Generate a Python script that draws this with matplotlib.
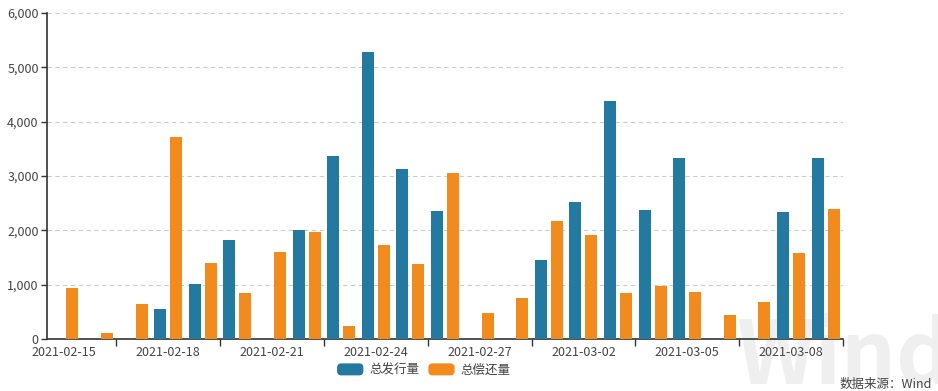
import numpy as np
import matplotlib
matplotlib.use("Agg")
import matplotlib.pyplot as plt
from matplotlib.patches import FancyBboxPatch, Patch
from matplotlib.legend_handler import HandlerPatch

plt.rcParams['font.family'] = ['Noto Sans CJK SC', 'DejaVu Sans']

dates = ['2021-02-15', '2021-02-16', '2021-02-17', '2021-02-18', '2021-02-19', '2021-02-20',
         '2021-02-21', '2021-02-22', '2021-02-23', '2021-02-24', '2021-02-25', '2021-02-26',
         '2021-02-27', '2021-02-28', '2021-03-01', '2021-03-02', '2021-03-03', '2021-03-04',
         '2021-03-05', '2021-03-06', '2021-03-07', '2021-03-08', '2021-03-09']
issue = [0, 0, 0, 552, 1010, 1818, 0, 2007, 3370, 5291, 3136, 2357,
         0, 0, 1449, 2523, 4389, 2370, 3333, 0, 0, 2333, 3328]
repay = [940, 115, 650, 3726, 1405, 853, 1608, 1965, 245, 1737, 1381, 3052,
         473, 750, 2167, 1910, 847, 970, 860, 436, 687, 1589, 2394]

blue = '#23799f'
orange = '#f28b1e'
grey = '#444444'

fig = plt.figure(figsize=(9.38, 3.91), dpi=100)
ax = fig.add_axes([47 / 938, 1 - 339 / 391, 796 / 938, 326 / 391])
ax.set_zorder(1)
ax.patch.set_alpha(0)

x = np.arange(len(dates))
w = 0.347
ax.bar(x - 0.231, issue, w, color=blue, zorder=3)
ax.bar(x + 0.231, repay, w, color=orange, zorder=3)

ax.set_xlim(-0.5, len(dates) - 0.5)
ax.set_ylim(0, 6000)
ax.set_yticks(np.arange(0, 6001, 1000))
ax.set_yticklabels([f'{v:,}' for v in range(0, 6001, 1000)])
ax.yaxis.grid(True, linestyle=(0, (4, 3)), color='#cccccc', linewidth=0.8)
ax.set_axisbelow(True)

# labels every third day, ticks on the category boundaries
ax.set_xticks(x[::3])
ax.set_xticklabels(dates[::3])
ax.set_xticks(np.arange(1.5, len(dates), 3), minor=True)
ax.tick_params(axis='x', which='major', length=0, pad=5)
ax.tick_params(axis='x', which='minor', length=5, color='#333333', width=1)
ax.tick_params(axis='y', length=4, color='#333333', width=1, pad=2)
ax.tick_params(labelsize=9, labelcolor=grey)

for s in ['top', 'right']:
    ax.spines[s].set_visible(False)
for s in ['left', 'bottom']:
    ax.spines[s].set_color('#333333')
    ax.spines[s].set_linewidth(1.2)


class RoundBox(HandlerPatch):
    def create_artists(self, legend, orig, xd, yd, width, height, fontsize, trans):
        p = FancyBboxPatch((-xd + 1.5, -yd + 1.5), width - 3, height - 3,
                           boxstyle='round,pad=1.5,rounding_size=3',
                           facecolor=orig.get_facecolor(), edgecolor='none', transform=trans)
        return [p]


handles = [Patch(color=blue, label='总发行量'), Patch(color=orange, label='总偿还量')]
fig.legend(handles=handles, loc='center', bbox_to_anchor=(0.452, 1 - 370 / 391), ncol=2,
           frameon=False, fontsize=9, labelcolor=grey, handlelength=2.1, handleheight=1.1,
           handletextpad=0.5, columnspacing=0.7, handler_map={Patch: RoundBox()})

# watermark and source
fig.text(0.785, -0.03, 'Wind', fontsize=62, fontweight='bold', color='#efefef',
         ha='left', va='bottom', zorder=0)
fig.text(0.993, 0.0, '数据来源：Wind', fontsize=9, color=grey, ha='right', va='bottom')

fig.savefig('out.png', dpi=100)
